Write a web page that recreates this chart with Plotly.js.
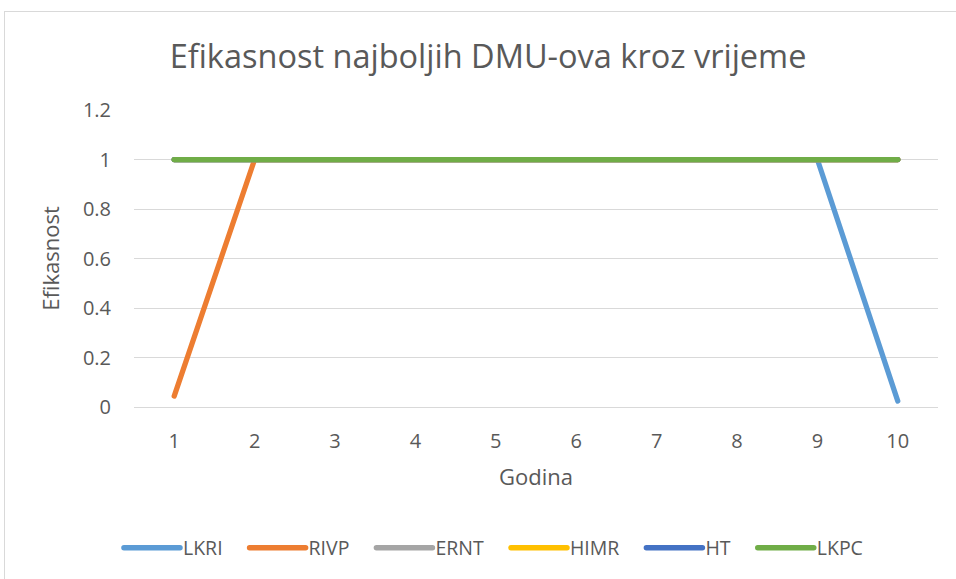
<!DOCTYPE html>
<html>
<head>
<meta charset="utf-8">
<script src="https://cdn.plot.ly/plotly-3.0.1.min.js"></script>
<style>
html,body{margin:0;padding:0;background:#fff;}
#wrap{position:relative;width:956px;height:579px;overflow:hidden;}
#chart{position:absolute;left:0;top:0;width:956px;height:579px;}
#frame{position:absolute;left:4px;top:11px;width:960px;height:580px;border-left:1px solid #d9d9d9;border-top:1px solid #d9d9d9;pointer-events:none;}
</style>
</head>
<body>
<div id="wrap"><div id="chart"></div><div id="frame"></div></div>
<script>
const years = ['1','2','3','4','5','6','7','8','9','10'];
const LKRI = [1,1,1,1,1,1,1,1,1,0.024];
const RIVP = [0.044,1,1,1,1,1,1,1,1,1];
const ERNT = [1,1,1,1,1,1,1,1,1,1];
const HIMR = [1,1,1,1,1,1,1,1,1,1];
const HT   = [1,1,1,1,1,1,1,1,1,1];
const LKPC = [1,1,1,1,1,1,1,1,1,1];
const seriesNames = ['LKRI','RIVP','ERNT','HIMR','HT','LKPC'];
const seriesData = [LKRI, RIVP, ERNT, HIMR, HT, LKPC];
const colors = ['#5b9bd5','#ed7d31','#a5a5a5','#ffc000','#4472c4','#70ad47'];

const font = '"Open Sans", "Noto Sans", sans-serif';
const traces = seriesNames.map((n,i)=>({
  x: years, y: seriesData[i], name: n, type:'scatter', mode:'lines',
  line:{color:colors[i], width:5.25, shape:'linear'},
  hoverinfo:'x+y+name'
}));

const layout = {
  width:956, height:579,
  margin:{l:134, r:18, t:110, b:172},
  paper_bgcolor:'#fff', plot_bgcolor:'#fff',
  font:{family:font, color:'#595959', size:20},
  title:{text:'Efikasnost najboljih DMU-ova kroz vrijeme', font:{family:font, size:32.5, color:'#595959'}, x:0.5105, xanchor:'center', y:0.903, yanchor:'middle'},
  xaxis:{
    type:'category', range:[-0.5,9.5],
    showgrid:false, zeroline:false,
    showline:true, linecolor:'#d9d9d9', linewidth:1,
    ticks:'', ticklabelstandoff:16,
    tickfont:{family:font,size:20,color:'#595959'},
    title:{text:'Godina', font:{family:font,size:22,color:'#595959'}, standoff:16}
  },
  yaxis:{
    range:[0,1.2],
    tickvals:[0,0.2,0.4,0.6,0.8,1,1.2],
    ticktext:['0','0.2','0.4','0.6','0.8','1','1.2'],
    showgrid:true, gridcolor:'#d9d9d9', gridwidth:1,
    zeroline:false, showline:false,
    ticks:'', ticklabelstandoff:22,
    tickfont:{family:font,size:20,color:'#595959'},
    title:{text:'Efikasnost', font:{family:font,size:22,color:'#595959'}, standoff:17}
  },
  showlegend:true,
  legend:{orientation:'h', x:0.444, xanchor:'center', y:-0.475, yanchor:'middle',
    font:{family:font,size:19.5,color:'#595959'}, itemwidth:60, tracegroupgap:0,
    bgcolor:'rgba(0,0,0,0)'}
};
Plotly.newPlot('chart', traces, layout, {displayModeBar:false, staticPlot:true}).then(function(gd){
  gd.querySelectorAll('.scatterlayer path.js-line').forEach(function(p){
    p.style.strokeLinecap = 'round';
  });
  gd.querySelectorAll('.legend .legendlines path').forEach(function(p){
    p.setAttribute('d','M11,0h56');
    p.style.strokeLinecap = 'round';
    p.style.strokeWidth = '5.5px';
  });
  // remove legend clipping so the wider spacing is not cut off
  gd.querySelectorAll('.legend [clip-path]').forEach(function(el){
    el.removeAttribute('clip-path');
  });
  // widen gaps between legend entries (Excel-like spacing)
  gd.querySelectorAll('.legend g.traces').forEach(function(g, i){
    const t = g.getAttribute('transform') || '';
    const m = /translate\(\s*([-\d.e]+)[ ,]+([-\d.e]+)\s*\)/.exec(t);
    if(m){
      const x = parseFloat(m[1]) + 11*i - 28;
      g.setAttribute('transform','translate(' + x + ',' + m[2] + ')');
    }
  });
});
</script>
</body>
</html>
